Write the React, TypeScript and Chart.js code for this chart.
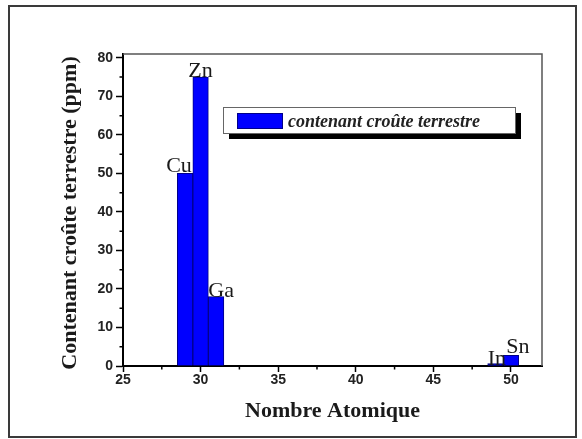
import React, { useEffect, useRef } from "react";
import { Chart, registerables } from "chart.js";

Chart.register(...registerables);

// ---- data ----
const elements = ["Cu", "Zn", "Ga", "In", "Sn"];
const atomicNumbers = [29, 30, 31, 49, 50];
const contents = [50, 75, 18, 0.6, 2.8];
const xTickValues = [25, 30, 35, 40, 45, 50];
const xMinorTickValues = [27.5, 32.5, 37.5, 42.5, 47.5];
const yTickValues = [0, 10, 20, 30, 40, 50, 60, 70, 80];
const yMinorTickValues = [5, 15, 25, 35, 45, 55, 65, 75];
const seriesLabel = "contenant croûte terrestre";
const xTitle = "Nombre Atomique";
const yTitle = "Contenant croûte terrestre (ppm)";

// ---- styling for element labels (placement only) ----
const labelStyle: Record<string, { align: CanvasTextAlign; anchor: "left" | "center" | "right"; dx: number; dy: number }> = {
  Cu: { align: "right", anchor: "right", dx: -1, dy: -1 },
  Zn: { align: "center", anchor: "center", dx: 0, dy: 0 },
  Ga: { align: "left", anchor: "left", dx: 0, dy: 0 },
  In: { align: "left", anchor: "left", dx: 0, dy: 1.5 },
  Sn: { align: "left", anchor: "left", dx: 3, dy: -2 },
};

const SERIF = "'Liberation Serif', 'Times New Roman', serif";
const SANS = "'Liberation Sans', Arial, sans-serif";

const decorPlugin = {
  id: "decor",
  beforeDraw(chart: any) {
    const ctx = chart.ctx;
    ctx.save();
    ctx.fillStyle = "#ffffff";
    ctx.fillRect(0, 0, chart.width, chart.height);
    ctx.restore();
  },
  afterDraw(chart: any) {
    const ctx = chart.ctx;
    const area = chart.chartArea;
    const xs = chart.scales.x;
    const ys = chart.scales.y;
    ctx.save();

    // outer frame
    ctx.strokeStyle = "#3a3a3a";
    ctx.lineWidth = 2;
    ctx.strokeRect(9, 6, 567, 431);

    // top and right borders of plot
    ctx.strokeStyle = "#555555";
    ctx.lineWidth = 1.5;
    ctx.beginPath();
    ctx.moveTo(area.left, area.top);
    ctx.lineTo(area.right, area.top);
    ctx.lineTo(area.right, area.bottom);
    ctx.stroke();

    // minor ticks
    ctx.strokeStyle = "#000000";
    ctx.lineWidth = 1.5;
    ctx.beginPath();
    xMinorTickValues.forEach((v) => {
      const px = xs.getPixelForValue(v);
      ctx.moveTo(px, area.bottom);
      ctx.lineTo(px, area.bottom + 3.5);
    });
    yMinorTickValues.forEach((v) => {
      const py = ys.getPixelForValue(v);
      ctx.moveTo(area.left, py);
      ctx.lineTo(area.left - 3.5, py);
    });
    ctx.stroke();

    // element labels
    const meta = chart.getDatasetMeta(0);
    ctx.fillStyle = "#1a1a1a";
    ctx.font = `22px ${SERIF}`;
    ctx.textBaseline = "alphabetic";
    meta.data.forEach((bar: any, i: number) => {
      const p = bar.getProps(["x", "y", "width"], true);
      const name = elements[i];
      const st = labelStyle[name];
      let ax = p.x;
      if (st.anchor === "left") ax = p.x - p.width / 2;
      if (st.anchor === "right") ax = p.x + p.width / 2;
      ctx.textAlign = st.align;
      ctx.fillText(name, ax + st.dx, p.y + st.dy);
    });

    // legend
    const lx = 223, ly = 107, lw = 292, lh = 26;
    ctx.fillStyle = "#000000";
    ctx.fillRect(lx + 6, ly + 6, lw, lh);
    ctx.fillStyle = "#ffffff";
    ctx.fillRect(lx, ly, lw, lh);
    ctx.strokeStyle = "#666666";
    ctx.lineWidth = 1;
    ctx.strokeRect(lx + 0.5, ly + 0.5, lw, lh);
    ctx.fillStyle = "#0000ff";
    ctx.fillRect(237, 113, 46, 16);
    ctx.strokeStyle = "#000088";
    ctx.strokeRect(237.5, 113.5, 45, 15);
    ctx.fillStyle = "#222222";
    ctx.font = `italic bold 18px ${SERIF}`;
    ctx.textAlign = "left";
    ctx.fillText(chart.data.datasets[0].label, 288, 126.5);

    // axis titles
    ctx.fillStyle = "#1a1a1a";
    ctx.font = `bold 22px ${SERIF}`;
    ctx.textAlign = "center";
    ctx.fillText(xTitle, (area.left + area.right) / 2, 417);
    ctx.save();
    ctx.translate(76, 213);
    ctx.rotate(-Math.PI / 2);
    ctx.fillText(yTitle, 0, 0);
    ctx.restore();

    ctx.restore();
  },
};

export default function App() {
  const ref = useRef<HTMLCanvasElement | null>(null);

  useEffect(() => {
    if (!ref.current) return;
    const chart = new Chart(ref.current, {
      type: "bar",
      data: {
        datasets: [
          {
            label: seriesLabel,
            data: atomicNumbers.map((x, i) => ({ x, y: contents[i] })),
            backgroundColor: "#0000ff",
            borderColor: "#000088",
            borderWidth: 1,
            barPercentage: 1,
            categoryPercentage: 1,
          },
        ],
      },
      options: {
        responsive: false,
        animation: false,
        layout: { padding: { left: 0, top: 54, right: 40, bottom: 0 } },
        plugins: {
          legend: { display: false },
          tooltip: { enabled: false },
          title: { display: false },
        },
        scales: {
          x: {
            type: "linear",
            min: 25,
            max: 52,
            offset: false,
            afterFit: (s: any) => {
              s.height = 73;
            },
            afterBuildTicks: (s: any) => {
              s.ticks = xTickValues.map((v) => ({ value: v }));
            },
            ticks: {
              includeBounds: false,
              padding: 0,
              color: "#222222",
              font: { family: SANS, size: 14, weight: "bold" },
              maxRotation: 0,
            },
            grid: {
              offset: false,
              drawOnChartArea: false,
              drawTicks: true,
              tickLength: 6,
              tickColor: "#000000",
              tickWidth: 1.5,
            },
            border: { display: true, color: "#000000", width: 2 },
          },
          y: {
            type: "linear",
            min: 0,
            max: 81,
            afterFit: (s: any) => {
              s.width = 123;
            },
            afterBuildTicks: (s: any) => {
              s.ticks = yTickValues.map((v) => ({ value: v }));
            },
            ticks: {
              includeBounds: false,
              padding: 3,
              color: "#222222",
              font: { family: SANS, size: 14, weight: "bold" },
            },
            grid: {
              drawOnChartArea: false,
              drawTicks: true,
              tickLength: 7,
              tickColor: "#000000",
              tickWidth: 1.5,
            },
            border: { display: true, color: "#000000", width: 2 },
          },
        },
      },
      plugins: [decorPlugin],
    } as any);
    return () => chart.destroy();
  }, []);

  return (
    <div style={{ position: "absolute", left: 0, top: 0, width: 582, height: 439 }}>
      <canvas ref={ref} width={582} height={439} style={{ display: "block" }} />
    </div>
  );
}
